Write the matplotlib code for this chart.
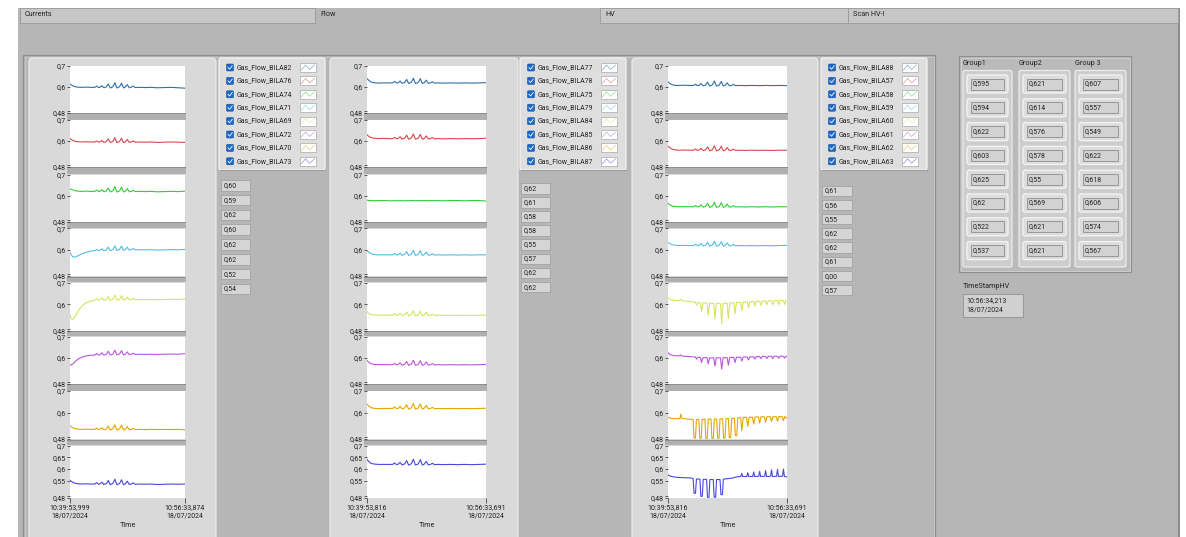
import matplotlib
matplotlib.use('Agg')
import matplotlib.pyplot as plt
from matplotlib.patches import Rectangle, FancyBboxPatch

plt.rcParams['font.family'] = ['Roboto', 'DejaVu Sans']

# ---- data (seconds after start of the window, gas flow values) ----
t_flat = [0, 10, 25, 45, 70, 100, 140, 180,
          215, 232, 248, 262, 278, 294, 316, 333, 350, 373, 390, 407, 431,
          448, 465, 481, 498, 515, 533, 550, 567,
          600, 650, 700, 760, 820, 880, 940, 1000]

# panel 1 (Gas_Flow_BILA82 ... 73)
bila82 = [0.614, 0.611, 0.606, 0.602, 0.600, 0.599, 0.600, 0.599,
          0.599, 0.605, 0.598, 0.600, 0.607, 0.597, 0.601, 0.615, 0.596, 0.602, 0.621, 0.596, 0.602,
          0.619, 0.596, 0.601, 0.612, 0.597, 0.600, 0.605, 0.598,
          0.599, 0.598, 0.599, 0.597, 0.598, 0.599, 0.597, 0.595]
bila76 = [0.612, 0.608, 0.603, 0.599, 0.597, 0.596, 0.597, 0.596,
          0.596, 0.601, 0.595, 0.597, 0.603, 0.594, 0.598, 0.611, 0.593, 0.599, 0.616, 0.593, 0.598,
          0.614, 0.593, 0.597, 0.608, 0.594, 0.596, 0.601, 0.595,
          0.596, 0.595, 0.596, 0.594, 0.595, 0.596, 0.595, 0.594]
bila74 = [0.633, 0.631, 0.628, 0.624, 0.622, 0.621, 0.622, 0.621,
          0.621, 0.627, 0.620, 0.622, 0.629, 0.619, 0.623, 0.637, 0.618, 0.624, 0.643, 0.618, 0.623,
          0.641, 0.618, 0.622, 0.634, 0.619, 0.621, 0.626, 0.620,
          0.621, 0.620, 0.621, 0.619, 0.620, 0.621, 0.620, 0.622]
bila71 = [0.590, 0.578, 0.568, 0.568, 0.574, 0.582, 0.590, 0.595,
          0.597, 0.603, 0.597, 0.599, 0.606, 0.597, 0.601, 0.614, 0.597, 0.602, 0.620, 0.598, 0.603,
          0.619, 0.599, 0.603, 0.613, 0.600, 0.602, 0.607, 0.601,
          0.602, 0.601, 0.602, 0.600, 0.601, 0.602, 0.601, 0.603]
bila69 = [0.552, 0.535, 0.531, 0.545, 0.568, 0.590, 0.607, 0.615,
          0.618, 0.626, 0.618, 0.620, 0.630, 0.618, 0.622, 0.636, 0.618, 0.623, 0.642, 0.619, 0.623,
          0.640, 0.619, 0.622, 0.633, 0.620, 0.622, 0.627, 0.621,
          0.622, 0.621, 0.622, 0.621, 0.622, 0.623, 0.622, 0.625]
bila72 = [0.568, 0.566, 0.572, 0.583, 0.594, 0.603, 0.609, 0.612,
          0.613, 0.620, 0.613, 0.615, 0.624, 0.613, 0.617, 0.631, 0.613, 0.618, 0.636, 0.614, 0.618,
          0.634, 0.614, 0.617, 0.628, 0.615, 0.617, 0.622, 0.616,
          0.617, 0.616, 0.617, 0.616, 0.617, 0.618, 0.617, 0.620]
bila70 = [0.540, 0.536, 0.531, 0.527, 0.525, 0.524, 0.525, 0.524,
          0.524, 0.530, 0.523, 0.525, 0.532, 0.522, 0.526, 0.539, 0.521, 0.527, 0.545, 0.521, 0.526,
          0.543, 0.521, 0.525, 0.537, 0.522, 0.524, 0.529, 0.523,
          0.524, 0.523, 0.524, 0.523, 0.524, 0.523, 0.524, 0.522]
bila73 = [0.553, 0.549, 0.544, 0.540, 0.538, 0.537, 0.538, 0.537,
          0.537, 0.543, 0.536, 0.538, 0.545, 0.535, 0.539, 0.552, 0.534, 0.540, 0.557, 0.534, 0.539,
          0.555, 0.534, 0.538, 0.549, 0.535, 0.537, 0.542, 0.536,
          0.537, 0.536, 0.537, 0.535, 0.536, 0.537, 0.536, 0.537]

# panel 2 (Gas_Flow_BILA77 ... 87)
bila77 = [0.640, 0.635, 0.627, 0.622, 0.620, 0.619, 0.620, 0.620,
          0.620, 0.627, 0.619, 0.621, 0.629, 0.618, 0.622, 0.636, 0.617, 0.623, 0.642, 0.617, 0.622,
          0.640, 0.617, 0.621, 0.633, 0.618, 0.620, 0.625, 0.619,
          0.620, 0.619, 0.620, 0.619, 0.620, 0.619, 0.620, 0.621]
bila78 = [0.630, 0.625, 0.619, 0.615, 0.613, 0.612, 0.613, 0.612,
          0.612, 0.618, 0.611, 0.613, 0.621, 0.610, 0.614, 0.628, 0.609, 0.615, 0.634, 0.609, 0.614,
          0.632, 0.609, 0.613, 0.625, 0.610, 0.612, 0.617, 0.611,
          0.612, 0.611, 0.612, 0.611, 0.612, 0.611, 0.612, 0.614]
bila75 = [0.580, 0.579, 0.578, 0.578, 0.577, 0.578, 0.578, 0.577,
          0.577, 0.578, 0.577, 0.577, 0.578, 0.577, 0.577, 0.578, 0.577, 0.578, 0.578, 0.577, 0.578,
          0.578, 0.577, 0.578, 0.578, 0.577, 0.578, 0.578, 0.577,
          0.578, 0.577, 0.578, 0.578, 0.577, 0.578, 0.578, 0.576]
bila79 = [0.598, 0.593, 0.586, 0.581, 0.579, 0.578, 0.578, 0.578,
          0.578, 0.584, 0.577, 0.579, 0.586, 0.576, 0.580, 0.593, 0.575, 0.581, 0.599, 0.575, 0.580,
          0.597, 0.575, 0.579, 0.591, 0.576, 0.578, 0.583, 0.577,
          0.578, 0.577, 0.578, 0.577, 0.578, 0.577, 0.578, 0.578]
bila84 = [0.566, 0.561, 0.555, 0.552, 0.551, 0.550, 0.551, 0.550,
          0.550, 0.556, 0.549, 0.551, 0.559, 0.548, 0.552, 0.565, 0.547, 0.553, 0.571, 0.547, 0.552,
          0.569, 0.547, 0.551, 0.563, 0.548, 0.550, 0.555, 0.549,
          0.550, 0.549, 0.550, 0.549, 0.550, 0.549, 0.550, 0.550]
bila85 = [0.588, 0.582, 0.575, 0.571, 0.569, 0.568, 0.569, 0.568,
          0.568, 0.574, 0.567, 0.569, 0.577, 0.566, 0.570, 0.583, 0.565, 0.571, 0.589, 0.565, 0.570,
          0.587, 0.565, 0.569, 0.581, 0.566, 0.568, 0.573, 0.567,
          0.568, 0.567, 0.568, 0.567, 0.568, 0.567, 0.568, 0.569]
bila86 = [0.640, 0.634, 0.627, 0.622, 0.620, 0.619, 0.620, 0.620,
          0.620, 0.627, 0.619, 0.621, 0.630, 0.618, 0.622, 0.637, 0.617, 0.623, 0.643, 0.617, 0.622,
          0.641, 0.617, 0.621, 0.634, 0.618, 0.620, 0.625, 0.619,
          0.620, 0.619, 0.620, 0.619, 0.620, 0.619, 0.620, 0.621]
bila87 = [0.641, 0.635, 0.627, 0.623, 0.621, 0.620, 0.620, 0.620,
          0.620, 0.626, 0.619, 0.621, 0.629, 0.618, 0.622, 0.636, 0.617, 0.623, 0.642, 0.617, 0.622,
          0.640, 0.617, 0.621, 0.633, 0.618, 0.620, 0.625, 0.619,
          0.620, 0.619, 0.620, 0.619, 0.620, 0.619, 0.620, 0.621]

# panel 3 (Gas_Flow_BILA88, 57 ... 63)
bila88 = [0.625, 0.620, 0.614, 0.610, 0.608, 0.608, 0.609, 0.608,
          0.608, 0.614, 0.607, 0.609, 0.617, 0.606, 0.610, 0.624, 0.605, 0.611, 0.629, 0.605, 0.610,
          0.627, 0.605, 0.609, 0.620, 0.606, 0.608, 0.613, 0.607,
          0.608, 0.607, 0.608, 0.607, 0.608, 0.607, 0.608, 0.607]
bila57 = [0.576, 0.571, 0.565, 0.560, 0.558, 0.557, 0.558, 0.557,
          0.557, 0.563, 0.556, 0.558, 0.566, 0.555, 0.559, 0.573, 0.554, 0.560, 0.578, 0.554, 0.559,
          0.576, 0.554, 0.558, 0.570, 0.555, 0.557, 0.562, 0.556,
          0.557, 0.556, 0.557, 0.556, 0.557, 0.556, 0.557, 0.557]
bila58 = [0.566, 0.561, 0.555, 0.551, 0.550, 0.549, 0.550, 0.549,
          0.549, 0.555, 0.548, 0.550, 0.558, 0.547, 0.551, 0.565, 0.546, 0.552, 0.570, 0.546, 0.551,
          0.568, 0.546, 0.550, 0.562, 0.547, 0.549, 0.554, 0.548,
          0.549, 0.548, 0.549, 0.548, 0.549, 0.548, 0.549, 0.549]
bila59 = [0.636, 0.632, 0.627, 0.624, 0.622, 0.621, 0.622, 0.621,
          0.621, 0.627, 0.620, 0.622, 0.630, 0.619, 0.623, 0.636, 0.618, 0.624, 0.641, 0.618, 0.623,
          0.639, 0.618, 0.622, 0.633, 0.619, 0.621, 0.626, 0.620,
          0.621, 0.620, 0.621, 0.620, 0.621, 0.620, 0.621, 0.622]

t_dips = [0, 20, 60, 95, 105, 120, 180,
          230, 240, 250, 272, 282, 294, 328, 338, 350, 384, 394, 406,
          441, 451, 463, 497, 507, 519, 553, 563, 575, 610, 620, 632,
          666, 676, 688, 720, 730, 742, 770, 780, 792, 820, 830, 842,
          870, 880, 892, 920, 930, 942, 970, 980, 992, 1000]
bila60 = [0.633, 0.622, 0.618, 0.617, 0.624, 0.616, 0.613,
          0.610, 0.596, 0.608, 0.607, 0.567, 0.606, 0.606, 0.550, 0.605, 0.604, 0.533, 0.604,
          0.603, 0.512, 0.604, 0.605, 0.535, 0.606, 0.607, 0.556, 0.608, 0.609, 0.572, 0.610,
          0.611, 0.585, 0.612, 0.613, 0.593, 0.614, 0.614, 0.596, 0.615, 0.615, 0.598, 0.616,
          0.616, 0.598, 0.617, 0.617, 0.599, 0.618, 0.617, 0.600, 0.618, 0.618]
bila61 = [0.624, 0.614, 0.610, 0.609, 0.614, 0.608, 0.606,
          0.604, 0.594, 0.603, 0.602, 0.578, 0.601, 0.601, 0.572, 0.600, 0.600, 0.562, 0.600,
          0.600, 0.548, 0.601, 0.601, 0.566, 0.602, 0.602, 0.578, 0.603, 0.603, 0.585, 0.604,
          0.604, 0.590, 0.605, 0.605, 0.594, 0.606, 0.606, 0.596, 0.607, 0.606, 0.597, 0.607,
          0.607, 0.597, 0.608, 0.607, 0.598, 0.608, 0.607, 0.599, 0.608, 0.606]

t_bila62 = [0, 20, 60, 100, 108, 116, 150, 190,
            211, 219, 231, 239, 259, 267, 279, 287, 310, 318, 330, 338, 361, 369, 381, 389,
            409, 417, 429, 437, 459, 467, 479, 487, 507, 515, 527, 535, 558, 566, 578, 586,
            610, 620, 632, 660, 670, 682, 710, 720, 732, 760, 770, 782,
            810, 820, 832, 860, 870, 882, 910, 920, 932, 960, 970, 982, 1000]
bila62 = [0.580, 0.575, 0.573, 0.574, 0.594, 0.575, 0.572, 0.570,
          0.570, 0.484, 0.484, 0.569, 0.570, 0.483, 0.483, 0.570, 0.571, 0.483, 0.483, 0.571,
          0.572, 0.483, 0.483, 0.571, 0.572, 0.484, 0.484, 0.572, 0.573, 0.484, 0.484, 0.573,
          0.574, 0.486, 0.486, 0.574, 0.575, 0.495, 0.495, 0.576,
          0.578, 0.518, 0.579, 0.579, 0.538, 0.580, 0.580, 0.548, 0.581, 0.581, 0.553, 0.582,
          0.581, 0.557, 0.582, 0.582, 0.560, 0.582, 0.582, 0.562, 0.583, 0.582, 0.564, 0.583, 0.574]

t_bila63 = [0, 20, 60, 120, 180, 200,
            211, 219, 231, 239, 268, 276, 288, 296, 324, 332, 344, 352, 380, 388, 400, 408,
            437, 445, 457, 465, 500, 540, 560, 585,
            612, 620, 628, 662, 670, 678, 712, 720, 728, 762, 770, 778,
            812, 820, 828, 862, 870, 878, 912, 920, 928, 962, 970, 978, 1000]
bila63 = [0.576, 0.570, 0.566, 0.564, 0.563, 0.562,
          0.560, 0.498, 0.498, 0.558, 0.558, 0.485, 0.485, 0.557, 0.557, 0.481, 0.481, 0.556,
          0.556, 0.481, 0.481, 0.556, 0.556, 0.492, 0.492, 0.557, 0.560, 0.562, 0.565, 0.568,
          0.569, 0.582, 0.569, 0.569, 0.585, 0.569, 0.569, 0.588, 0.569, 0.570, 0.591, 0.569,
          0.570, 0.594, 0.569, 0.570, 0.597, 0.569, 0.570, 0.599, 0.569, 0.570, 0.600, 0.569, 0.567]

names1 = ['Gas_Flow_BILA82', 'Gas_Flow_BILA76', 'Gas_Flow_BILA74', 'Gas_Flow_BILA71',
          'Gas_Flow_BILA69', 'Gas_Flow_BILA72', 'Gas_Flow_BILA70', 'Gas_Flow_BILA73']
names2 = ['Gas_Flow_BILA77', 'Gas_Flow_BILA78', 'Gas_Flow_BILA75', 'Gas_Flow_BILA79',
          'Gas_Flow_BILA84', 'Gas_Flow_BILA85', 'Gas_Flow_BILA86', 'Gas_Flow_BILA87']
names3 = ['Gas_Flow_BILA88', 'Gas_Flow_BILA57', 'Gas_Flow_BILA58', 'Gas_Flow_BILA59',
          'Gas_Flow_BILA60', 'Gas_Flow_BILA61', 'Gas_Flow_BILA62', 'Gas_Flow_BILA63']

readouts1 = ['0,60', '0,59', '0,62', '0,60', '0,62', '0,62', '0,52', '0,54']
readouts2 = ['0,62', '0,61', '0,58', '0,58', '0,55', '0,57', '0,62', '0,62']
readouts3 = ['0,61', '0,56', '0,55', '0,62', '0,62', '0,61', '0,00', '0,57']

group1 = [0.595, 0.594, 0.622, 0.603, 0.625, 0.62, 0.522, 0.537]
group2 = [0.621, 0.614, 0.576, 0.578, 0.55, 0.569, 0.621, 0.621]
group3 = [0.607, 0.557, 0.549, 0.622, 0.618, 0.606, 0.574, 0.567]

time_labels1 = ['10:39:53,999\n18/07/2024', '10:56:33,874\n18/07/2024']
time_labels2 = ['10:39:53,816\n18/07/2024', '10:56:33,691\n18/07/2024']
time_span = 999.875
tab_names = ['Currents', 'Flow', 'HV', 'Scan HV-I']

colors = ['#2f6fab', '#d9474c', '#33cc33', '#52bde6',
          '#d6e460', '#bb55dd', '#e6a500', '#4747dd']

panels = [
    [(t_flat, bila82), (t_flat, bila76), (t_flat, bila74), (t_flat, bila71),
     (t_flat, bila69), (t_flat, bila72), (t_flat, bila70), (t_flat, bila73)],
    [(t_flat, bila77), (t_flat, bila78), (t_flat, bila75), (t_flat, bila79),
     (t_flat, bila84), (t_flat, bila85), (t_flat, bila86), (t_flat, bila87)],
    [(t_flat, bila88), (t_flat, bila57), (t_flat, bila58), (t_flat, bila59),
     (t_dips, bila60), (t_dips, bila61), (t_bila62, bila62), (t_bila63, bila63)],
]
names = [names1, names2, names3]
readouts = [readouts1, readouts2, readouts3]
time_labels = [time_labels1, time_labels2, time_labels2]
groups = [group1, group2, group3]

# ---- layout (pixels) ----
W, H = 1186, 537
BG = '#b6b6b6'
PANEL = '#d9d9d9'
fig = plt.figure(figsize=(W / 100, H / 100), dpi=100)
fig.patch.set_facecolor('white')
bg = fig.add_axes([0, 0, 1, 1])
bg.set_xlim(0, W)
bg.set_ylim(H, 0)
bg.axis('off')


def rect(x0, y0, x1, y1, fc, ec='none', lw=0.8, z=1):
    bg.add_patch(Rectangle((x0, y0), x1 - x0, y1 - y0, fc=fc, ec=ec, lw=lw, zorder=z))


def rbox(x0, y0, x1, y1, fc, ec='none', lw=0.8, r=3, z=1):
    bg.add_patch(FancyBboxPatch((x0, y0), x1 - x0, y1 - y0,
                                boxstyle='round,pad=0,rounding_size=%s' % r,
                                fc=fc, ec=ec, lw=lw, zorder=z))


def label(x, y, s, size=5, **kw):
    bg.text(x, y, s, fontsize=size, color='#222222', va='center', zorder=5, **kw)


# window background + tabs
rect(18, 8, 1180, H, BG)
rect(1178, 8, 1180, H, '#8c8c8c')
tab_x = [(20, 315), (315, 600), (600, 848), (848, 1178)]
for k, (a, b) in enumerate(tab_x):
    if k != 1:
        rect(a, 8, b, 23, '#c7c7c7', ec='#9a9a9a', lw=0.6)
    label(a + 5, 15, tab_names[k], size=5.2)

# frame around the graph area
rect(23, 55, 935, H + 2, 'none', ec='#8c8c8c', lw=0.9, z=1)
rect(24.5, 56.5, 933.5, H + 2, 'none', ec='#cfcfcf', lw=0.5, z=1)

panel_x = [(29, 216), (330, 518), (632, 818)]
plot_x = [(70, 185), (367, 486), (668, 787)]
legend_x = [219, 520, 821]
value_x = [(221, 250), (521, 550), (822, 852)]
value_y0 = [180, 183, 185.5]
value_dy = [14.8, 14.1, 14.2]
plot_top = [66, 120, 174.5, 228.5, 282.5, 336.5, 391, 445.5]
plot_bot = [112.5, 166.5, 221.5, 276, 330.5, 383.5, 439, 497.5]

for p in range(3):
    px0, px1 = panel_x[p]
    rbox(px0, 58, px1, H + 5, PANEL, ec='#eeeeee', lw=0.8, r=4)
    x0, x1 = plot_x[p]
    # separators between the stacked plots
    for i in range(7):
        rect(x0 - 3, plot_bot[i] + 0.5, x1 + 1, plot_top[i + 1] - 0.5, '#b0b0b0', z=2)
        rect(x0 - 3, plot_bot[i] + 0.5, x1 + 1, plot_bot[i] + 1.6, '#8e8e8e', z=2)

    for i in range(8):
        top, bot = plot_top[i], plot_bot[i]
        ax = fig.add_axes([x0 / W, 1 - bot / H, (x1 - x0) / W, (bot - top) / H])
        ax.set_facecolor('white')
        t, v = panels[p][i]
        ax.plot(t, v, color=colors[i], lw=0.8)
        ax.set_xlim(0, time_span)
        ax.set_ylim(0.48, 0.7)
        for s in ax.spines.values():
            s.set_visible(False)
        if i == 7:
            ax.set_yticks([0.48, 0.55, 0.6, 0.65, 0.7])
            ax.set_yticklabels(['0,48', '0,55', '0,6', '0,65', '0,7'])
        else:
            ax.set_yticks([0.48, 0.6, 0.7])
            ax.set_yticklabels(['0,48', '0,6', '0,7'])
        ax.set_yticks([0.487], minor=True)
        ax.tick_params(axis='y', which='both', length=2.2, width=0.6, pad=1,
                       labelsize=5, colors='#444444', labelcolor='#222222')
        if i == 7:
            ax.set_xticks([0, time_span])
            ax.set_xticklabels(time_labels[p])
            ax.tick_params(axis='x', length=3.5, width=0.6, pad=1.5, labelsize=5,
                           colors='#444444', labelcolor='#222222')
            ax.set_xlabel('Time', fontsize=5.2, labelpad=1.5, color='#222222')
        else:
            ax.set_xticks([])

    # legend
    lx = legend_x[p]
    rbox(lx, 58, lx + 106, 170, '#dedede', ec='#f4f4f4', lw=0.9, r=2)
    rect(lx + 1, 169.5, lx + 107, 171, '#9c9c9c', z=1)
    for i in range(8):
        cy = 67.5 + 13.4 * i
        rbox(lx + 7.5, cy - 3.5, lx + 14.5, cy + 3.5, '#1b68c9', ec='#11509e', lw=0.4, r=1, z=3)
        bg.plot([lx + 9, lx + 10.6, lx + 13.2], [cy, cy + 1.7, cy - 1.8], color='white', lw=0.6, zorder=4)
        label(lx + 18, cy, names[p][i], size=5)
        rect(lx + 81, cy - 4.5, lx + 97, cy + 4.5, 'white', ec='#a8a8a8', lw=0.5, z=3)
        bg.plot([lx + 82.5, lx + 86.5, lx + 90.5, lx + 95.5], [cy + 2.5, cy - 2.5, cy + 2, cy - 2.5],
                color=colors[i], lw=0.5, alpha=0.6, zorder=4)

    # numeric readouts
    vx0, vx1 = value_x[p]
    for i in range(8):
        y = value_y0[p] + value_dy[p] * i
        rect(vx0, y, vx1, y + 10.5, '#d5d5d5', ec='#a2a2a2', lw=0.6, z=3)
        label(vx0 + 2.5, y + 5.5, readouts[p][i], size=5)

# group cluster
rect(959, 56, 1131, 272, '#bababa', ec='#8e8e8e', lw=0.8)
rect(960.5, 57.5, 1129.5, 270.5, 'none', ec='#d4d4d4', lw=0.5)
group_x = [(963, 1012), (1019, 1070), (1075, 1126)]
group_names = ['Group1', 'Group2', 'Group 3']
for g in range(3):
    a, b = group_x[g]
    label(a, 63.5, group_names[g], size=5.2)
    rbox(a, 70.5, b, 267, '#cdcdcd', ec='#ececec', lw=0.9, r=2)
    for k in range(8):
        y = 75 + 23.8 * k
        rbox(a + 4, y, b - 4, y + 18, '#dcdcdc', ec='#f5f5f5', lw=0.9, r=2, z=2)
        rect(a + 8, y + 3.5, b - 8, y + 14.5, '#d2d2d2', ec='#8c8c8c', lw=0.6, z=3)
        label(a + 10, y + 9, str(groups[g][k]).replace('.', ','), size=5)

# time stamp
label(963, 287, 'TimeStampHV', size=5.2)
rect(963, 294, 1023, 317, '#d0d0d0', ec='#909090', lw=0.6, z=3)
label(966, 300.5, '10:56:34,213', size=5)
label(966, 310, '18/07/2024', size=5)

fig.savefig('out.png', dpi=100, facecolor='white')
